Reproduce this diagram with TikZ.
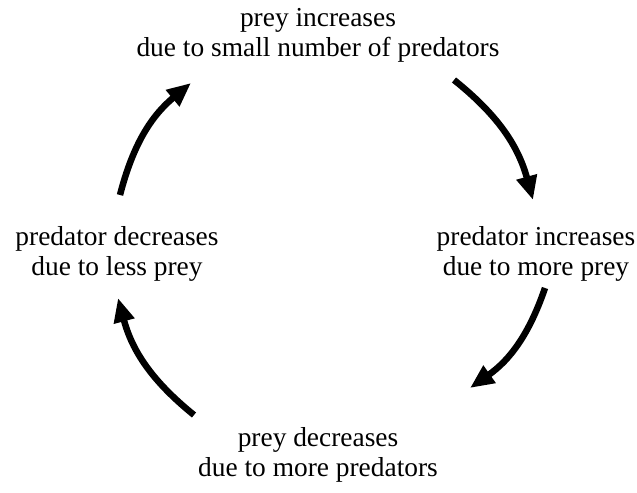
\documentclass[tikz,border=0pt]{standalone}
\usepackage{fontspec}
\setmainfont{Liberation Serif}
\usetikzlibrary{arrows.meta}
\begin{document}
\begin{tikzpicture}[x=1bp,y=1bp,
  lbl/.style={align=center,font=\fontsize{27.5}{30}\selectfont,inner sep=0pt},
  cyc/.style={line width=6.5bp,-{Triangle[length=24bp,width=20bp]},bend left=18}]
\useasboundingbox (0,0) rectangle (637,493);
\node[lbl] (top) at (318,458) {prey increases\\due to small number of predators};
\node[lbl] (right) at (536,239) {predator increases\\due to more prey};
\node[lbl] (bot) at (318,38) {prey decreases\\due to more predators};
\node[lbl] (left) at (117,239) {predator decreases\\due to less prey};
\coordinate (a1s) at (120,298);
\coordinate (a1e) at (191,410);
\coordinate (a2s) at (454,413);
\coordinate (a2e) at (533,293);
\coordinate (a3s) at (545,205);
\coordinate (a3e) at (470,105);
\coordinate (a4s) at (194,78);
\coordinate (a4e) at (118,195);
\draw[cyc] (a1s) to (a1e);
\draw[cyc] (a2s) to (a2e);
\draw[cyc] (a3s) to (a3e);
\draw[cyc] (a4s) to (a4e);
\end{tikzpicture}
\end{document}
